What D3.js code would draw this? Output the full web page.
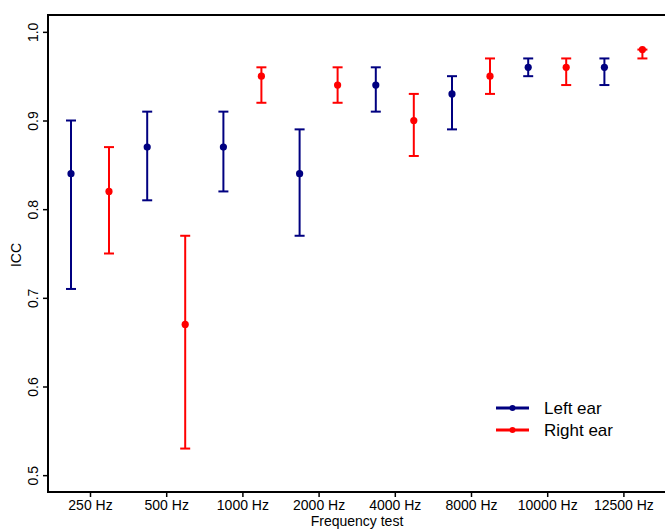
<!DOCTYPE html>
<html>
<head>
<meta charset="utf-8">
<script src="https://cdn.jsdelivr.net/npm/d3@7"></script>
<style>
  body { margin: 0; background: #fff; }
  svg { display: block; font-family: "Liberation Sans", Arial, sans-serif; }
</style>
</head>
<body>
<div id="chart"></div>
<script>
// data
var freqs = ["250 Hz", "500 Hz", "1000 Hz", "2000 Hz", "4000 Hz", "8000 Hz", "10000 Hz", "12500 Hz"];
var leftIcc = [0.84, 0.87, 0.87, 0.84, 0.94, 0.93, 0.96, 0.96];
var leftLo  = [0.71, 0.81, 0.82, 0.77, 0.91, 0.89, 0.95, 0.94];
var leftHi  = [0.90, 0.91, 0.91, 0.89, 0.96, 0.95, 0.97, 0.97];
var rightIcc = [0.82, 0.67, 0.95, 0.94, 0.90, 0.95, 0.96, 0.98];
var rightLo  = [0.75, 0.53, 0.92, 0.92, 0.86, 0.93, 0.94, 0.97];
var rightHi  = [0.87, 0.77, 0.96, 0.96, 0.93, 0.97, 0.97, 0.98];
var yTicks = [0.5, 0.6, 0.7, 0.8, 0.9, 1.0];

var w = 665, h = 529;
var pLeft = 48, pTop = 15, pBottom = 492, pRight = 700;

var svg = d3.select("#chart").append("svg")
    .attr("width", w)
    .attr("height", h);

var x = d3.scalePoint().domain(freqs).range([90, 623.4]);
var y = d3.scaleLinear().domain([0.481, 1.019]).range([pBottom, pTop]);

var series = [
    {name: "Left ear", color: "#000080", off: -19, v: leftIcc, lo: leftLo, hi: leftHi},
    {name: "Right ear", color: "#ff0000", off: 19, v: rightIcc, lo: rightLo, hi: rightHi}
];

// error bars + points
series.forEach(function(s) {
    var g = svg.append("g");
    var rows = freqs.map(function(f, i) {
        return {f: f, v: s.v[i], lo: s.lo[i], hi: s.hi[i]};
    });
    var cx = function(d) { return x(d.f) + s.off; };
    g.selectAll(".bar").data(rows).enter().append("line")
        .attr("x1", cx).attr("x2", cx)
        .attr("y1", function(d) { return y(d.lo); })
        .attr("y2", function(d) { return y(d.hi); })
        .attr("stroke", s.color).attr("stroke-width", 2);
    ["lo", "hi"].forEach(function(k) {
        g.selectAll(".cap" + k).data(rows).enter().append("line")
            .attr("x1", function(d) { return cx(d) - 5; })
            .attr("x2", function(d) { return cx(d) + 5; })
            .attr("y1", function(d) { return y(d[k]); })
            .attr("y2", function(d) { return y(d[k]); })
            .attr("stroke", s.color).attr("stroke-width", 2);
    });
    g.selectAll("circle").data(rows).enter().append("circle")
        .attr("cx", cx)
        .attr("cy", function(d) { return y(d.v); })
        .attr("r", 3.6)
        .attr("fill", s.color);
});

// panel border
svg.append("rect")
    .attr("x", pLeft).attr("y", pTop)
    .attr("width", pRight - pLeft).attr("height", pBottom - pTop)
    .attr("fill", "none").attr("stroke", "#000").attr("stroke-width", 2);

// x axis
var xAxis = svg.append("g")
    .attr("transform", "translate(0," + pBottom + ")")
    .call(d3.axisBottom(x).tickSize(5).tickSizeOuter(0));
xAxis.select(".domain").remove();
xAxis.selectAll("line").attr("stroke", "#000").attr("stroke-width", 1.5);
xAxis.selectAll("text").attr("font-size", 14).attr("fill", "#000")
    .attr("font-family", "Liberation Sans, Arial, sans-serif").attr("y", 8);

// y axis
var yAxis = svg.append("g")
    .attr("transform", "translate(" + pLeft + ",0)")
    .call(d3.axisLeft(y).tickValues(yTicks).tickFormat(d3.format(".1f")).tickSize(5).tickSizeOuter(0));
yAxis.select(".domain").remove();
yAxis.selectAll("line").attr("stroke", "#000").attr("stroke-width", 1.5);
yAxis.selectAll("text")
    .attr("font-size", 14).attr("fill", "#000")
    .attr("font-family", "Liberation Sans, Arial, sans-serif")
    .attr("x", null).attr("dy", null)
    .attr("text-anchor", "middle")
    .attr("transform", "translate(-10,0) rotate(-90)");

// axis titles
svg.append("text")
    .attr("x", 357).attr("y", 526)
    .attr("text-anchor", "middle")
    .attr("font-size", 14)
    .text("Frequency test");
svg.append("text")
    .attr("transform", "translate(21,255) rotate(-90)")
    .attr("text-anchor", "middle")
    .attr("font-size", 14)
    .text("ICC");

// legend
var legend = svg.append("g");
series.forEach(function(s, i) {
    var ly = 408 + i * 22;
    legend.append("line")
        .attr("x1", 496).attr("x2", 529)
        .attr("y1", ly).attr("y2", ly)
        .attr("stroke", s.color).attr("stroke-width", 3);
    legend.append("circle")
        .attr("cx", 512.5).attr("cy", ly).attr("r", 3)
        .attr("fill", s.color);
    legend.append("text")
        .attr("x", 544).attr("y", ly + 6)
        .attr("font-size", 17)
        .text(s.name);
});
</script>
</body>
</html>
